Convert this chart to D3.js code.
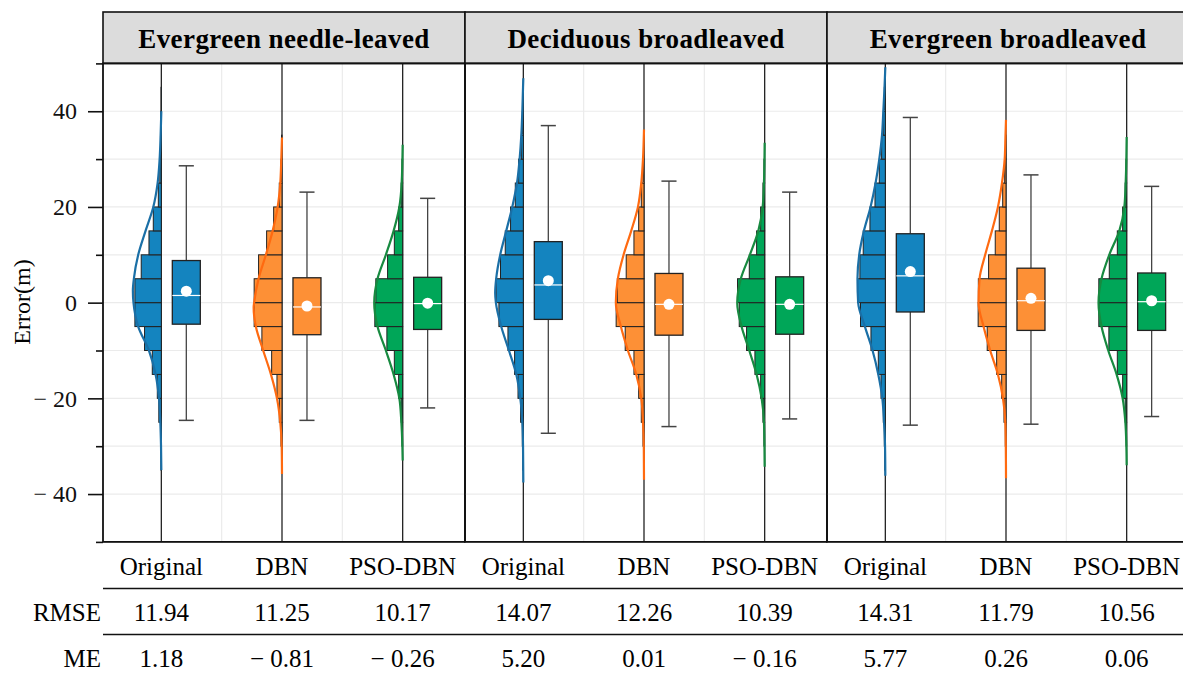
<!DOCTYPE html>
<html>
<head>
<meta charset="utf-8">
<script src="https://cdn.jsdelivr.net/npm/d3@7"></script>
<style>
  body { margin: 0; background: #fff; }
  svg { display: block; font-family: "Liberation Serif", "Times New Roman", serif; }
</style>
</head>
<body>
<svg id="chart"></svg>
<script>
// ---- data ----
var forestTypes = ['Evergreen needle-leaved', 'Deciduous broadleaved', 'Evergreen broadleaved'];
var models = ['Original', 'DBN', 'PSO-DBN'];
var yMajorTicks = [-40, -20, 0, 20, 40];
var yMinorTicks = [-50, -30, -10, 10, 30, 50];

// histogram bin lower edges (bin width 5 m)
var binStarts = [-35, -30, -25, -20, -15, -10, -5, 0, 5, 10, 15, 20, 25, 30, 35, 40];

// relative frequencies per bin, one row per model
var histNeedle = [
  [0.3, 0.8, 2.5, 4, 9, 16.7, 26.3, 26.3, 20, 12.3, 8, 3, 1.5, 0.8, 0.5, 0.3],
  [0.3, 1, 2.7, 5, 10.3, 20, 27.7, 27.7, 23.3, 15.3, 8.3, 2.7, 1, 0.5, 0, 0],
  [0, 0.7, 1.5, 4, 8.3, 15.7, 27.7, 26.7, 15, 8.3, 4, 1.5, 0.7, 0, 0, 0]
];
var histDeciduous = [
  [0.5, 1, 2.7, 5.3, 8.7, 15.3, 24.3, 27, 22.7, 18, 12.7, 8, 4.7, 2, 1, 0.5],
  [0.3, 1, 2.7, 5.3, 10, 18.7, 27.7, 26.5, 17.7, 10, 5.3, 2.7, 1, 0.5, 0, 0],
  [0, 0.7, 1.7, 4, 9.7, 18, 25.3, 27, 15.3, 8, 4, 1.7, 0.7, 0, 0, 0]
];
var histBroad = [
  [0.5, 1, 2, 4.3, 7, 14.3, 24.7, 27.7, 25.3, 22, 15.3, 10.3, 6, 3.7, 2, 1],
  [0.3, 0.7, 2, 4.3, 9.3, 18.7, 27.7, 27.5, 17.3, 10.7, 6.7, 3.3, 1.3, 0.5, 0, 0],
  [0, 0.5, 1.5, 4, 9.3, 17.7, 27.7, 27.7, 17.3, 9.3, 4, 1.5, 0.7, 0, 0, 0]
];

// density curves: [error, density]
var curveNeedle = [
  [[40,0],[35,0.7],[30,1.7],[25,3.7],[20,8],[15,15.7],[10,23],[5,27.3],[2.5,28.3],[0,27.7],[-5,23],[-10,12.3],[-15,5.7],[-20,2.3],[-25,1],[-30,0.3],[-35,0]],
  [[34.5,0],[30,0.7],[25,1.7],[20,4.3],[15,9.3],[10,16],[5,23.3],[0,27.7],[-1,28.2],[-5,26],[-10,18.7],[-15,11],[-20,5],[-25,1.7],[-30,0.3],[-35.8,0]],
  [[33,0],[25,1],[20,3.3],[15,9],[10,16.7],[5,25],[0,28.3],[-5,25],[-10,16.7],[-15,9],[-20,3.3],[-25,1.3],[-30,0.3],[-33,0]]
];
var curveDeciduous = [
  [[46.9,0],[45,0.3],[40,1],[35,2],[30,3.7],[25,6.3],[20,11],[15,17],[10,23],[5,27],[2,28],[0,27.3],[-5,22],[-10,14.3],[-15,7],[-20,3],[-25,1],[-30,0.3],[-37.6,0]],
  [[36.2,0],[30,1],[25,2.7],[20,6],[15,12.7],[10,20.3],[5,26],[0,28],[-5,23],[-10,16],[-15,7.7],[-20,2.7],[-25,1],[-30,0.2],[-37,0]],
  [[33.4,0],[25,0.7],[20,2],[15,6.3],[10,14.7],[5,23.7],[0,27.3],[-5,23],[-10,15.3],[-15,8],[-20,3],[-25,0.7],[-30,0.2],[-34.3,0]]
];
var curveBroad = [
  [[49.2,0],[45,0.8],[40,2],[35,3.3],[30,6],[25,9.7],[20,14.7],[15,21.3],[10,26],[5,27.7],[0,27],[-5,20.3],[-10,12.7],[-15,7],[-20,3],[-25,1.3],[-30,0.3],[-36.2,0]],
  [[38.2,0],[35,0.5],[30,1.3],[25,4],[20,8],[15,14],[10,20.7],[5,26.3],[0,27.3],[-5,22.3],[-10,15.7],[-15,8],[-20,3],[-25,0.7],[-30,0.2],[-36.7,0]],
  [[34.6,0],[30,0.3],[25,1],[20,2.3],[15,7.3],[10,17.3],[5,25],[0,28],[-5,25],[-10,18.3],[-15,10],[-20,4],[-25,1.3],[-30,0.3],[-34,0]]
];

// box stats: [whiskerLow, q1, median, q3, whiskerHigh, mean]
var boxNeedle = [
  [-24.6, -4.5, 1.5, 8.8, 28.6, 2.4],
  [-24.6, -6.7, -0.9, 5.2, 23.1, -0.7],
  [-22, -5.6, -0.2, 5.3, 21.8, -0.1]
];
var boxDeciduous = [
  [-27.3, -3.5, 3.7, 12.75, 37, 4.6],
  [-25.9, -6.8, -0.35, 6.1, 25.4, -0.35],
  [-24.3, -6.6, -0.35, 5.4, 23.1, -0.35]
];
var boxBroad = [
  [-25.6, -1.95, 5.6, 14.4, 38.7, 6.5],
  [-25.4, -5.8, 0.4, 7.2, 26.7, 0.9],
  [-23.8, -5.8, 0.2, 6.2, 24.3, 0.4]
];

var rmseValues = [[11.94, 11.25, 10.17], [14.07, 12.26, 10.39], [14.31, 11.79, 10.56]];
var meValues = [[1.18, -0.81, -0.26], [5.20, 0.01, -0.16], [5.77, 0.26, 0.06]];

var modelFill = ['#1484bf', '#fd9036', '#00a658'];
var modelLine = ['#1a6fa6', '#ff6a10', '#178a40'];

var hists = [histNeedle, histDeciduous, histBroad];
var curves = [curveNeedle, curveDeciduous, curveBroad];
var boxes = [boxNeedle, boxDeciduous, boxBroad];

// ---- drawing ----
function minusFmt(v, digits) {
  var s = digits == null ? String(Math.abs(v)) : Math.abs(v).toFixed(digits);
  return v < 0 ? '\u2212 ' + s : s;
}

function drawChart() {
  var width = 1183, height = 678;
  var left = 103, top = 63.4, bottom = 541.9, stripTop = 12;
  var panelW = 362;

  var svg = d3.select('#chart').attr('width', width).attr('height', height);
  svg.selectAll('*').remove();

  var y = d3.scaleLinear().domain([-50, 50]).range([bottom, top]);
  var panelX = d3.scaleBand().domain(forestTypes).range([left, left + panelW * forestTypes.length]);
  var x = d3.scaleBand().domain(models).range([-2, panelW - 2]);
  var bw = x.bandwidth();
  var dens = d3.scaleLinear().domain([0, 30]).range([0, bw / 4]);
  var boxOff = bw * 0.207, boxW = bw * 0.232, capW = bw * 0.125;

  forestTypes.forEach(function (ft, pi) {
    var g = svg.append('g').attr('transform', 'translate(' + panelX(ft) + ',0)');

    // grid
    g.selectAll('.hgrid').data(d3.range(-50, 51, 10)).enter().append('line')
      .attr('x1', 0).attr('x2', panelW).attr('y1', d => y(d)).attr('y2', d => y(d))
      .attr('stroke', '#ebebeb').attr('stroke-width', 1.2);
    g.selectAll('.vgrid').data(models.slice(1)).enter().append('line')
      .attr('x1', d => x(d)).attr('x2', d => x(d)).attr('y1', top).attr('y2', bottom)
      .attr('stroke', '#ebebeb').attr('stroke-width', 1.2);

    models.forEach(function (m, mi) {
      var base = x(m) + bw / 2;
      g.append('line').attr('x1', base).attr('x2', base).attr('y1', top).attr('y2', bottom)
        .attr('stroke', '#222').attr('stroke-width', 1.3);

      // half histogram
      var bins = binStarts.map(function (s, i) { return { s: s, v: hists[pi][mi][i] }; })
        .filter(function (d) { return d.v > 0; });
      g.selectAll('.bar' + mi).data(bins).enter().append('rect')
        .attr('x', d => base - dens(d.v))
        .attr('y', d => y(d.s + 5))
        .attr('width', d => dens(d.v))
        .attr('height', d => y(d.s) - y(d.s + 5))
        .attr('fill', modelFill[mi]).attr('stroke', '#222').attr('stroke-width', 1);

      // density curve
      var line = d3.line().x(d => base - dens(d[1])).y(d => y(d[0])).curve(d3.curveMonotoneY);
      g.append('path').attr('d', line(curves[pi][mi]))
        .attr('fill', 'none').attr('stroke', modelLine[mi]).attr('stroke-width', 2.2);

      // box plot
      var b = boxes[pi][mi], cx = base + boxOff;
      g.append('line').attr('x1', cx).attr('x2', cx).attr('y1', y(b[3])).attr('y2', y(b[4]))
        .attr('stroke', '#444').attr('stroke-width', 1.3);
      g.append('line').attr('x1', cx).attr('x2', cx).attr('y1', y(b[1])).attr('y2', y(b[0]))
        .attr('stroke', '#444').attr('stroke-width', 1.3);
      [b[0], b[4]].forEach(function (v) {
        g.append('line').attr('x1', cx - capW / 2).attr('x2', cx + capW / 2)
          .attr('y1', y(v)).attr('y2', y(v)).attr('stroke', '#444').attr('stroke-width', 1.5);
      });
      g.append('rect').attr('x', cx - boxW / 2).attr('y', y(b[3]))
        .attr('width', boxW).attr('height', y(b[1]) - y(b[3]))
        .attr('fill', modelFill[mi]).attr('stroke', '#222').attr('stroke-width', 1.3);
      g.append('line').attr('x1', cx - boxW / 2).attr('x2', cx + boxW / 2)
        .attr('y1', y(b[2])).attr('y2', y(b[2])).attr('stroke', '#fff').attr('stroke-width', 1.2);
      g.append('circle').attr('cx', cx).attr('cy', y(b[5])).attr('r', 5.5).attr('fill', '#fff');

      // category label and table cells
      g.append('text').attr('x', base).attr('y', 575).attr('text-anchor', 'middle')
        .attr('font-size', 25).text(m);
      g.append('text').attr('x', base).attr('y', 621).attr('text-anchor', 'middle')
        .attr('font-size', 25).text(rmseValues[pi][mi].toFixed(2));
      g.append('text').attr('x', base).attr('y', 667).attr('text-anchor', 'middle')
        .attr('font-size', 25).text(minusFmt(meValues[pi][mi], 2));
    });

    // strip
    g.append('rect').attr('x', 0).attr('y', stripTop).attr('width', panelW).attr('height', top - stripTop)
      .attr('fill', '#dcdcdc').attr('stroke', '#111').attr('stroke-width', 1.6);
    g.append('text').attr('x', panelW / 2).attr('y', 48).attr('text-anchor', 'middle')
      .attr('font-size', 27).attr('font-weight', 'bold').attr('letter-spacing', 0.4).text(ft);

    // panel border
    g.append('rect').attr('x', 0).attr('y', top).attr('width', panelW).attr('height', bottom - top)
      .attr('fill', 'none').attr('stroke', '#111').attr('stroke-width', 1.8);
  });

  // y axis
  var axMajor = svg.append('g').attr('transform', 'translate(' + left + ',0)')
    .call(d3.axisLeft(y).tickValues(yMajorTicks).tickSize(15).tickPadding(11).tickFormat(d => minusFmt(d)));
  var axMinor = svg.append('g').attr('transform', 'translate(' + left + ',0)')
    .call(d3.axisLeft(y).tickValues(yMinorTicks).tickSize(7).tickFormat(''));
  [axMajor, axMinor].forEach(function (a) {
    a.select('.domain').remove();
    a.selectAll('line').attr('stroke', '#111').attr('stroke-width', 1.6);
  });
  axMajor.selectAll('text').attr('font-size', 24).attr('font-family', '"Liberation Serif", serif').attr('fill', '#111');

  svg.append('text').attr('transform', 'translate(30,302) rotate(-90)').attr('text-anchor', 'middle')
    .attr('font-size', 24).text('Error(m)');

  // table rules and row labels
  [588.5, 634.5].forEach(function (ly) {
    svg.append('line').attr('x1', left).attr('x2', width).attr('y1', ly).attr('y2', ly)
      .attr('stroke', '#111').attr('stroke-width', 1.6);
  });
  svg.append('text').attr('x', 101).attr('y', 621).attr('text-anchor', 'end').attr('font-size', 25).text('RMSE');
  svg.append('text').attr('x', 101).attr('y', 667).attr('text-anchor', 'end').attr('font-size', 25).text('ME');
}

drawChart();
</script>
</body>
</html>
